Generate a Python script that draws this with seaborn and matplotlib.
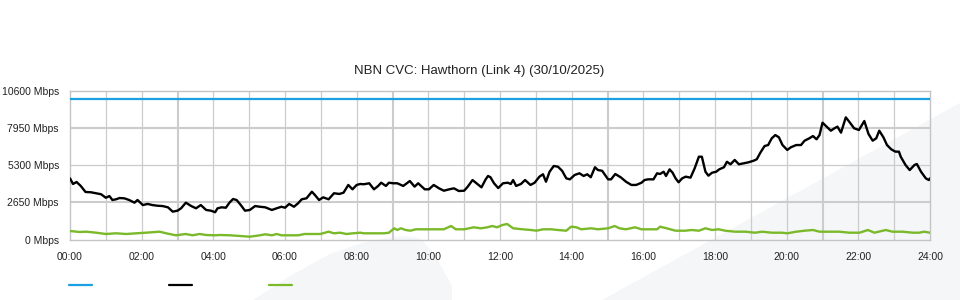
import matplotlib
matplotlib.use("Agg")
import matplotlib.pyplot as plt
import seaborn as sns
import pandas as pd
from matplotlib.patches import Polygon
from matplotlib.lines import Line2D

# ---------------- data ----------------
title = "NBN CVC: Hawthorn (Link 4) (30/10/2025)"
y_ticks = [0, 2650, 5300, 7950, 10600]
x_ticks = list(range(0, 1441, 120))
x_labels = ["00:00", "02:00", "04:00", "06:00", "08:00", "10:00", "12:00",
            "14:00", "16:00", "18:00", "20:00", "22:00", "24:00"]

capacity_min = [0, 1440]
capacity_mbps = [10000, 10000]

traffic_min = [
    0, 5, 11, 18, 26, 35, 44, 52, 60, 66,
    71, 77, 83, 91, 99, 108, 113, 122, 130, 138,
    147, 155, 164, 172, 180, 186, 194, 203, 211, 219,
    228, 236, 243, 247, 254, 261, 267, 273, 279, 286,
    293, 301, 310, 318, 327, 338, 346, 354, 360, 367,
    375, 382, 388, 396, 405, 410, 417, 424, 433, 442,
    451, 458, 466, 473, 480, 486, 492, 501, 509, 516,
    521, 529, 534, 541, 548, 558, 569, 577, 583, 594,
    601, 609, 618, 626, 635, 643, 651, 660, 666, 674,
    682, 689, 696, 700, 704, 710, 717, 725, 733, 738,
    742, 747, 755, 762, 771, 778, 786, 792, 797, 803,
    810, 817, 824, 831, 837, 845, 853, 860, 866, 872,
    879, 884, 891, 901, 906, 913, 922, 931, 940, 948,
    957, 962, 968, 977, 983, 988, 994, 998, 1004, 1009,
    1014, 1019, 1025, 1031, 1039, 1046, 1053, 1058, 1064, 1069,
    1075, 1082, 1087, 1095, 1100, 1106, 1113, 1120, 1128, 1136,
    1145, 1150, 1156, 1163, 1169, 1175, 1181, 1187, 1193, 1201,
    1207, 1216, 1224, 1230, 1238, 1244, 1250, 1255, 1260, 1267,
    1274, 1280, 1285, 1291, 1299, 1306, 1313, 1321, 1330, 1337,
    1344, 1350, 1355, 1362, 1368, 1375, 1382, 1388, 1391, 1399,
    1406, 1414, 1418, 1425, 1433, 1438, 1440]
traffic_mbps = [
    4350, 3950, 4090, 3810, 3380, 3360, 3290, 3220, 2970, 3090,
    2810, 2860, 2950, 2930, 2810, 2620, 2810, 2450, 2530, 2450,
    2400, 2380, 2290, 1980, 2050, 2220, 2620, 2380, 2220, 2450,
    2100, 2050, 1940, 2220, 2290, 2260, 2620, 2880, 2810, 2450,
    2050, 2100, 2380, 2330, 2290, 2100, 2220, 2330, 2260, 2530,
    2330, 2580, 2860, 2930, 3400, 3170, 2810, 3000, 2860, 3290,
    3240, 3330, 3880, 3570, 3880, 3950, 3930, 4000, 3570, 3810,
    4040, 3810, 4040, 4000, 4000, 3810, 4160, 3760, 4000, 3570,
    3570, 3880, 3640, 3470, 3570, 3640, 3450, 3470, 3760, 4230,
    3950, 3710, 4280, 4520, 4430, 4000, 3660, 4000, 4040, 3950,
    4230, 3810, 3950, 4230, 3880, 4040, 4470, 4640, 4110, 4820,
    5230, 5180, 4890, 4350, 4280, 4590, 4710, 4520, 4640, 4430,
    5140, 4940, 4890, 4280, 4280, 4660, 4430, 4110, 3880, 3880,
    4040, 4230, 4280, 4280, 4710, 4660, 4820, 4520, 4990, 4750,
    4350, 4070, 4350, 4470, 4400, 5070, 5890, 5890, 4820, 4540,
    4750, 4820, 4990, 5140, 5530, 5350, 5660, 5350, 5420, 5490,
    5610, 5710, 6180, 6650, 6720, 7200, 7430, 7270, 6720, 6370,
    6560, 6720, 6720, 7030, 7200, 7360, 7130, 7430, 8310, 8030,
    7740, 7910, 8030, 7600, 8690, 8310, 7910, 7790, 8430, 7510,
    7030, 7200, 7740, 7270, 6720, 6420, 6250, 6250, 5890, 5300,
    4940, 5300, 5370, 4820, 4350, 4230, 4350]

upload_min = [
    0, 16, 27, 44, 60, 77, 94, 111, 127, 150,
    161, 177, 194, 205, 217, 228, 243, 251, 268, 285,
    301, 318, 327, 338, 346, 354, 368, 382, 393, 407,
    419, 433, 442, 452, 463, 474, 486, 492, 509, 526,
    534, 543, 548, 554, 562, 570, 579, 593, 609, 626,
    638, 646, 660, 676, 688, 699, 707, 715, 724, 732,
    742, 758, 772, 781, 792, 806, 817, 831, 839, 848,
    856, 873, 884, 901, 912, 920, 931, 946, 957, 968,
    983, 988, 999, 1014, 1030, 1041, 1053, 1064, 1075, 1086,
    1097, 1114, 1131, 1147, 1159, 1175, 1192, 1201, 1216, 1230,
    1244, 1255, 1271, 1288, 1305, 1322, 1336, 1347, 1366, 1377,
    1394, 1411, 1422, 1430, 1440]
upload_mbps = [
    605, 534, 555, 484, 391, 441, 391, 441, 484, 555,
    441, 299, 391, 299, 391, 320, 299, 320, 299, 249,
    199, 299, 370, 299, 391, 299, 299, 299, 391, 391,
    391, 555, 441, 484, 391, 441, 484, 441, 441, 441,
    484, 797, 676, 797, 676, 626, 726, 726, 726, 726,
    960, 726, 726, 868, 797, 868, 960, 868, 1031, 1103,
    797, 726, 676, 626, 726, 726, 676, 626, 911, 868,
    726, 797, 726, 797, 960, 797, 726, 868, 726, 726,
    726, 911, 797, 626, 626, 676, 626, 797, 676, 726,
    626, 555, 555, 484, 555, 484, 484, 441, 555, 626,
    676, 555, 555, 555, 484, 484, 676, 484, 676, 555,
    555, 484, 484, 555, 484]

# ---------------- style ----------------
BLUE = "#1ba1e2"
BLACK = "#000000"
GREEN = "#7ab929"
GRID = "#cccccc"
TEXT = "#222222"

sns.set_theme(style="white")
plt.rcParams['font.family'] = ['Liberation Sans', 'DejaVu Sans']

W, H = 960, 300
fig = plt.figure(figsize=(9.6, 3.0), dpi=100)
fig.patch.set_facecolor("white")

def fp(x, y):
    return (x / W, 1 - y / H)

# faint background watermark shapes (behind the axes)
wm_color = "#f5f6f8"
fig.patches.append(Polygon([fp(602, 300), fp(960, 103), fp(960, 300)],
                           closed=True, transform=fig.transFigure,
                           facecolor=wm_color, edgecolor="none", zorder=-5))
fig.patches.append(Polygon([fp(253, 300), fp(290, 276), fp(330, 254), fp(365, 242),
                            fp(400, 236), fp(420, 238), fp(435, 255), fp(452, 286),
                            fp(452, 300)],
                           closed=True, transform=fig.transFigure,
                           facecolor=wm_color, edgecolor="none", zorder=-5))

ax = fig.add_axes([70 / W, 1 - 239.5 / H, 860 / W, 149 / H])
ax.set_facecolor("none")
ax.set_zorder(2)

# gridlines
for m in range(60, 1440, 60):
    thick = m in (180, 540, 900, 1260)
    ax.axvline(m, color=GRID, lw=1.5 if thick else 0.9, zorder=1)
for v in y_ticks[1:-1]:
    thick = v in (2650, 7950)
    ax.axhline(v, color=GRID, lw=1.5 if thick else 0.9, zorder=1)

df_cap = pd.DataFrame({"minute": capacity_min, "mbps": capacity_mbps})
df_tr = pd.DataFrame({"minute": traffic_min, "mbps": traffic_mbps})
df_up = pd.DataFrame({"minute": upload_min, "mbps": upload_mbps})

sns.lineplot(data=df_cap, x="minute", y="mbps", color=BLUE, lw=1.6, ax=ax, zorder=3)
sns.lineplot(data=df_tr, x="minute", y="mbps", color=BLACK, lw=1.7, ax=ax, zorder=4)
sns.lineplot(data=df_up, x="minute", y="mbps", color=GREEN, lw=1.7, ax=ax, zorder=3)

ax.set_xlim(0, 1440)
ax.set_ylim(0, 10600)
ax.set_xlabel("")
ax.set_ylabel("")
ax.set_xticks(x_ticks)
ax.set_xticklabels(x_labels)
ax.set_yticks(y_ticks)
ax.set_yticklabels([f"{v} Mbps" for v in y_ticks])
ax.tick_params(axis="x", length=7, width=1, color="#c0c0c0", pad=2,
               labelsize=7.5, labelcolor=TEXT)
ax.tick_params(axis="y", length=0, pad=8, labelsize=7.5, labelcolor=TEXT)
for s in ax.spines.values():
    s.set_color("#c4c4c4")
    s.set_linewidth(1.0)

fig.text(0.499, 1 - 71 / H, title, ha="center", va="center", fontsize=9.5, color=TEXT)

# legend swatches (no labels in the original)
for x0, c in [(69, BLUE), (169, BLACK), (269, GREEN)]:
    fig.add_artist(Line2D([x0 / W, (x0 + 23) / W], [1 - 285 / H] * 2,
                          transform=fig.transFigure, color=c, lw=1.6))

fig.savefig("out.png", dpi=100)
